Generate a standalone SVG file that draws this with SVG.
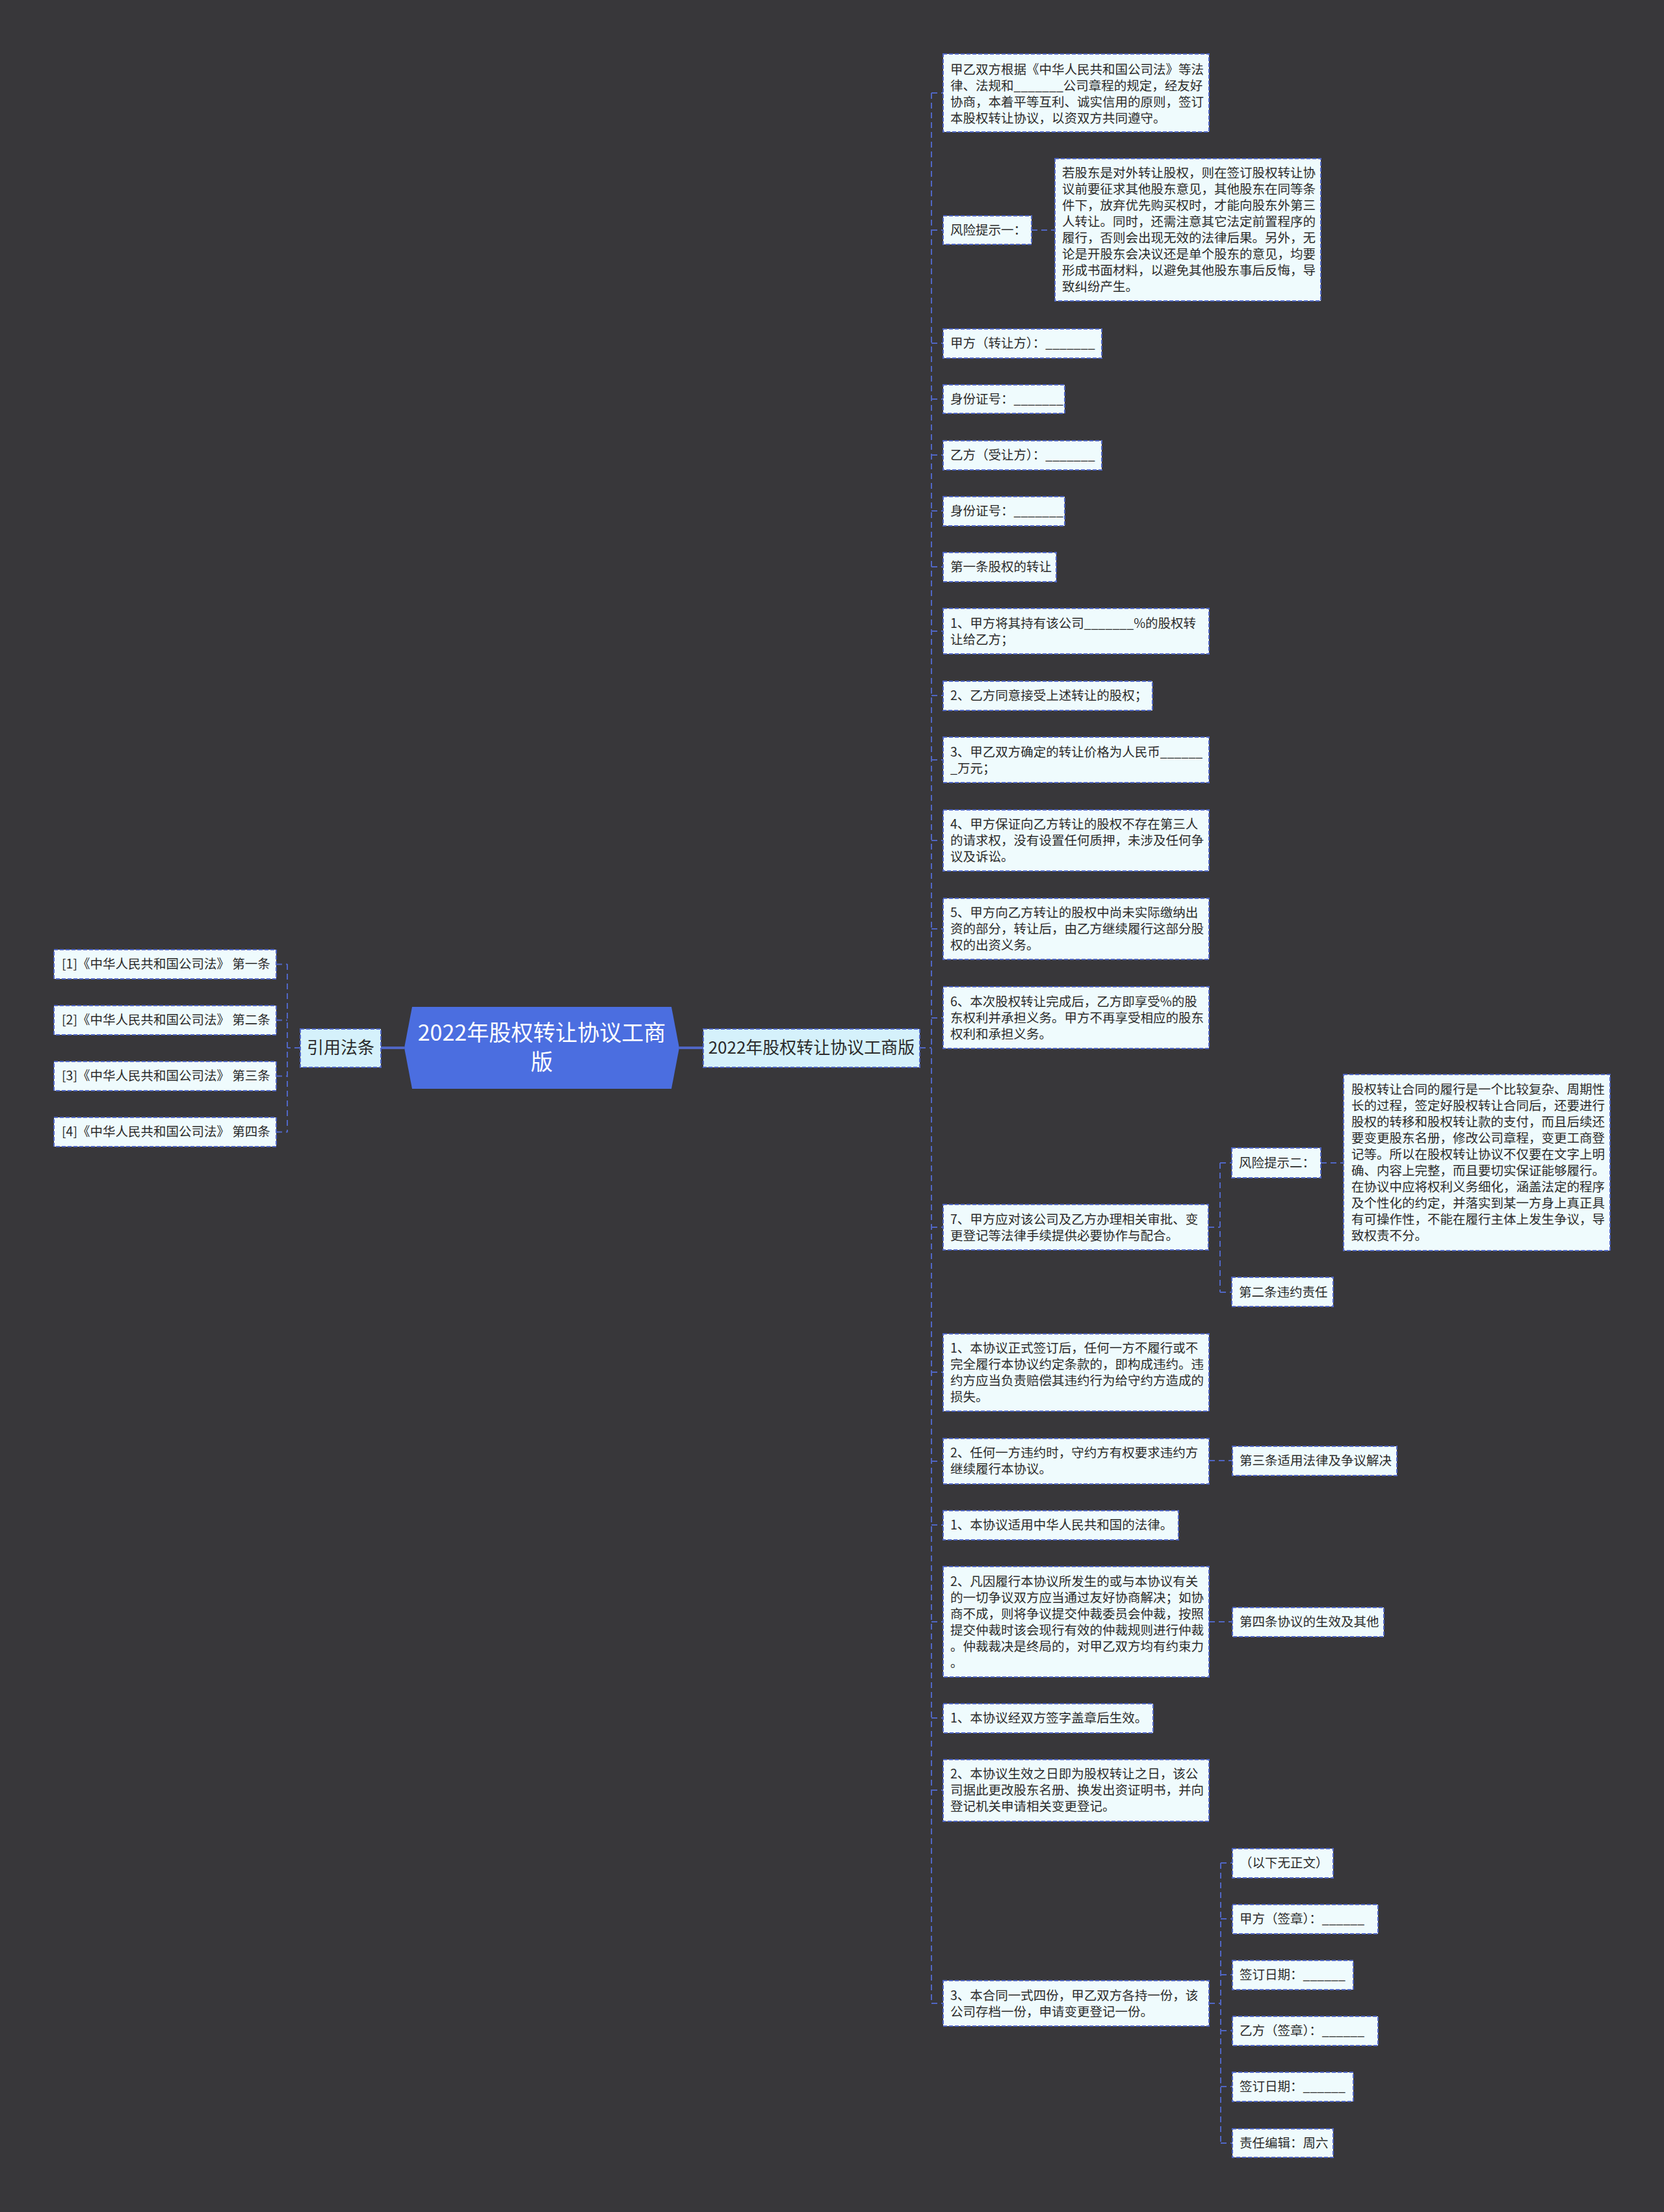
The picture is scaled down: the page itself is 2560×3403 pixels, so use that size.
<svg xmlns="http://www.w3.org/2000/svg" width="2560" height="3403" viewBox="0 0 2560 3403">
<style>
text{font-family:"Noto Sans CJK SC","Microsoft YaHei",sans-serif;fill:#2b2b2b}
.leaf{fill:#effbfd;stroke:#5066c4;stroke-width:2;stroke-dasharray:6 3}
.sub{fill:#d5f1fb;stroke:#5066c4;stroke-width:2;stroke-dasharray:6 3}
.t{font-size:19.5px}
.tl{font-size:19.5px}
.ts{font-size:26px}
.c{stroke:#5066c4;stroke-width:2;stroke-dasharray:9 6;fill:none}
.ct{stroke:#5066c4;stroke-width:4;fill:none}
</style>
<rect width="2560" height="3403" fill="#38373a"/>
<g id="connectors">
<path class="ct" d="M586 1612H622M1045 1612H1082"/>
<path class="c" d="M462 1612H442M442 1483V1742M425 1483.5H442M425 1569.5H442M425 1655.5H442M425 1741.5H442"/>
<path class="c" d="M1415 1612H1433M1433 143V3082"/>
<path class="c" d="M1433 143H1451M1433 354H1451M1433 528H1451M1433 614H1451M1433 700H1451M1433 786H1451M1433 872H1451M1433 971H1451M1433 1070H1451M1433 1169H1451M1433 1293H1451M1433 1429H1451M1433 1566H1451M1433 1888H1451M1433 2111H1451M1433 2248H1451M1433 2346H1451M1433 2495H1451M1433 2643H1451M1433 2754H1451M1433 3082H1451"/>
<path class="c" d="M1587 354H1623M2032 1789H2067M1860 2247H1896M1860 2495H1896"/>
<path class="c" d="M1859 1888H1877M1877 1789V1988M1877 1789H1895M1877 1988H1895"/>
<path class="c" d="M1860 3082H1878M1878 2866V3297M1878 2866H1896M1878 2952H1896M1878 3038H1896M1878 3124H1896M1878 3210H1896M1878 3297H1896"/>
</g>
<g id="root">
<path d="M634 1549H1033L1045 1612L1033 1675H634L622 1612Z" fill="#4b6ee0"/>
<text x="833.5" y="1601" text-anchor="middle" style="font-size:34px;fill:#ffffff">2022年股权转让协议工商</text>
<text x="833.5" y="1646" text-anchor="middle" style="font-size:34px;fill:#ffffff">版</text>
</g>
<g id="n-yinyong">
<rect class="sub" x="462" y="1583" width="124" height="59"/>
<text class="ts" x="524" y="1621" text-anchor="middle">引用法条</text>
</g>
<g id="n-law1"><rect class="leaf" x="83" y="1461" width="342" height="45"/><text class="tl" x="95" y="1490">[1]《中华人民共和国公司法》 第一条</text></g>
<g id="n-law2"><rect class="leaf" x="83" y="1547" width="342" height="45"/><text class="tl" x="95" y="1576">[2]《中华人民共和国公司法》 第二条</text></g>
<g id="n-law3"><rect class="leaf" x="83" y="1633" width="342" height="45"/><text class="tl" x="95" y="1662">[3]《中华人民共和国公司法》 第三条</text></g>
<g id="n-law4"><rect class="leaf" x="83" y="1719" width="342" height="45"/><text class="tl" x="95" y="1748">[4]《中华人民共和国公司法》 第四条</text></g>
<g id="n-main">
<rect class="sub" x="1082" y="1583" width="333" height="59"/>
<text class="ts" x="1248.5" y="1621" text-anchor="middle">2022年股权转让协议工商版</text>
</g>
<g id="n1"><rect class="leaf" x="1451" y="83" width="409" height="120"/>
<text class="t" x="1462" y="114"><tspan x="1462">甲乙双方根据《中华人民共和国公司法》等法</tspan><tspan x="1462" dy="25">律、法规和_______公司章程的规定，经友好</tspan><tspan x="1462" dy="25">协商，本着平等互利、诚实信用的原则，签订</tspan><tspan x="1462" dy="25">本股权转让协议，以资双方共同遵守。</tspan></text></g>
<g id="n2"><rect class="leaf" x="1451" y="332" width="136" height="44"/><text class="t" x="1462" y="361">风险提示一：</text></g>
<g id="n2a"><rect class="leaf" x="1623" y="244" width="409" height="219"/>
<text class="t" x="1634" y="273"><tspan x="1634">若股东是对外转让股权，则在签订股权转让协</tspan><tspan x="1634" dy="25">议前要征求其他股东意见，其他股东在同等条</tspan><tspan x="1634" dy="25">件下，放弃优先购买权时，才能向股东外第三</tspan><tspan x="1634" dy="25">人转让。同时，还需注意其它法定前置程序的</tspan><tspan x="1634" dy="25">履行，否则会出现无效的法律后果。另外，无</tspan><tspan x="1634" dy="25">论是开股东会决议还是单个股东的意见，均要</tspan><tspan x="1634" dy="25">形成书面材料，以避免其他股东事后反悔，导</tspan><tspan x="1634" dy="25">致纠纷产生。</tspan></text></g>
<g id="n3"><rect class="leaf" x="1451" y="506" width="244" height="45"/><text class="t" x="1462" y="535">甲方（转让方）：_______</text></g>
<g id="n4"><rect class="leaf" x="1451" y="592" width="187" height="44"/><text class="t" x="1462" y="621">身份证号：_______</text></g>
<g id="n5"><rect class="leaf" x="1451" y="678" width="244" height="45"/><text class="t" x="1462" y="707">乙方（受让方）：_______</text></g>
<g id="n6"><rect class="leaf" x="1451" y="764" width="187" height="45"/><text class="t" x="1462" y="793">身份证号：_______</text></g>
<g id="n7"><rect class="leaf" x="1451" y="850" width="174" height="45"/><text class="t" x="1462" y="879">第一条股权的转让</text></g>
<g id="n8"><rect class="leaf" x="1451" y="936" width="409" height="70"/>
<text class="t" x="1462" y="966"><tspan x="1462">1、甲方将其持有该公司_______%的股权转</tspan><tspan x="1462" dy="25">让给乙方；</tspan></text></g>
<g id="n9"><rect class="leaf" x="1451" y="1048" width="322" height="45"/><text class="t" x="1462" y="1077">2、乙方同意接受上述转让的股权；</text></g>
<g id="n10"><rect class="leaf" x="1451" y="1134" width="409" height="70"/>
<text class="t" x="1462" y="1164"><tspan x="1462">3、甲乙双方确定的转让价格为人民币______</tspan><tspan x="1462" dy="25">_万元；</tspan></text></g>
<g id="n11"><rect class="leaf" x="1451" y="1246" width="409" height="94"/>
<text class="t" x="1462" y="1275"><tspan x="1462">4、甲方保证向乙方转让的股权不存在第三人</tspan><tspan x="1462" dy="25">的请求权，没有设置任何质押，未涉及任何争</tspan><tspan x="1462" dy="25">议及诉讼。</tspan></text></g>
<g id="n12"><rect class="leaf" x="1451" y="1382" width="409" height="94"/>
<text class="t" x="1462" y="1411"><tspan x="1462">5、甲方向乙方转让的股权中尚未实际缴纳出</tspan><tspan x="1462" dy="25">资的部分，转让后，由乙方继续履行这部分股</tspan><tspan x="1462" dy="25">权的出资义务。</tspan></text></g>
<g id="n13"><rect class="leaf" x="1451" y="1518" width="409" height="95"/>
<text class="t" x="1462" y="1548"><tspan x="1462">6、本次股权转让完成后，乙方即享受%的股</tspan><tspan x="1462" dy="25">东权利并承担义务。甲方不再享受相应的股东</tspan><tspan x="1462" dy="25">权利和承担义务。</tspan></text></g>
<g id="n14"><rect class="leaf" x="1451" y="1853" width="408" height="70"/>
<text class="t" x="1462" y="1883"><tspan x="1462">7、甲方应对该公司及乙方办理相关审批、变</tspan><tspan x="1462" dy="25">更登记等法律手续提供必要协作与配合。</tspan></text></g>
<g id="n14a"><rect class="leaf" x="1895" y="1766" width="137" height="46"/><text class="t" x="1906" y="1796">风险提示二：</text></g>
<g id="n14a1"><rect class="leaf" x="2067" y="1653" width="410" height="271"/>
<text class="t" x="2079" y="1683"><tspan x="2079">股权转让合同的履行是一个比较复杂、周期性</tspan><tspan x="2079" dy="25">长的过程，签定好股权转让合同后，还要进行</tspan><tspan x="2079" dy="25">股权的转移和股权转让款的支付，而且后续还</tspan><tspan x="2079" dy="25">要变更股东名册，修改公司章程，变更工商登</tspan><tspan x="2079" dy="25">记等。所以在股权转让协议不仅要在文字上明</tspan><tspan x="2079" dy="25">确、内容上完整，而且要切实保证能够履行。</tspan><tspan x="2079" dy="25">在协议中应将权利义务细化，涵盖法定的程序</tspan><tspan x="2079" dy="25">及个性化的约定，并落实到某一方身上真正具</tspan><tspan x="2079" dy="25">有可操作性，不能在履行主体上发生争议，导</tspan><tspan x="2079" dy="25">致权责不分。</tspan></text></g>
<g id="n14b"><rect class="leaf" x="1895" y="1965" width="156" height="45"/><text class="t" x="1906" y="1995">第二条违约责任</text></g>
<g id="n15"><rect class="leaf" x="1451" y="2052" width="409" height="119"/>
<text class="t" x="1462" y="2081"><tspan x="1462">1、本协议正式签订后，任何一方不履行或不</tspan><tspan x="1462" dy="25">完全履行本协议约定条款的，即构成违约。违</tspan><tspan x="1462" dy="25">约方应当负责赔偿其违约行为给守约方造成的</tspan><tspan x="1462" dy="25">损失。</tspan></text></g>
<g id="n16"><rect class="leaf" x="1451" y="2213" width="409" height="70"/>
<text class="t" x="1462" y="2242"><tspan x="1462">2、任何一方违约时，守约方有权要求违约方</tspan><tspan x="1462" dy="25">继续履行本协议。</tspan></text></g>
<g id="n16a"><rect class="leaf" x="1896" y="2225" width="253" height="45"/><text class="t" x="1907" y="2254">第三条适用法律及争议解决</text></g>
<g id="n17"><rect class="leaf" x="1451" y="2324" width="362" height="45"/><text class="t" x="1462" y="2353">1、本协议适用中华人民共和国的法律。</text></g>
<g id="n18"><rect class="leaf" x="1451" y="2410" width="409" height="170"/>
<text class="t" x="1462" y="2440"><tspan x="1462">2、凡因履行本协议所发生的或与本协议有关</tspan><tspan x="1462" dy="25">的一切争议双方应当通过友好协商解决；如协</tspan><tspan x="1462" dy="25">商不成，则将争议提交仲裁委员会仲裁，按照</tspan><tspan x="1462" dy="25">提交仲裁时该会现行有效的仲裁规则进行仲裁</tspan><tspan x="1462" dy="25">。仲裁裁决是终局的，对甲乙双方均有约束力</tspan><tspan x="1462" dy="25">。</tspan></text></g>
<g id="n18a"><rect class="leaf" x="1896" y="2473" width="233" height="45"/><text class="t" x="1907" y="2502">第四条协议的生效及其他</text></g>
<g id="n19"><rect class="leaf" x="1451" y="2621" width="323" height="45"/><text class="t" x="1462" y="2650">1、本协议经双方签字盖章后生效。</text></g>
<g id="n20"><rect class="leaf" x="1451" y="2707" width="409" height="95"/>
<text class="t" x="1462" y="2736"><tspan x="1462">2、本协议生效之日即为股权转让之日，该公</tspan><tspan x="1462" dy="25">司据此更改股东名册、换发出资证明书，并向</tspan><tspan x="1462" dy="25">登记机关申请相关变更登记。</tspan></text></g>
<g id="n21"><rect class="leaf" x="1451" y="3047" width="409" height="70"/>
<text class="t" x="1462" y="3077"><tspan x="1462">3、本合同一式四份，甲乙双方各持一份，该</tspan><tspan x="1462" dy="25">公司存档一份，申请变更登记一份。</tspan></text></g>
<g id="n21a"><rect class="leaf" x="1896" y="2844" width="155" height="45"/><text class="t" x="1907" y="2873">（以下无正文）</text></g>
<g id="n21b"><rect class="leaf" x="1896" y="2930" width="224" height="45"/><text class="t" x="1907" y="2959">甲方（签章）：______</text></g>
<g id="n21c"><rect class="leaf" x="1896" y="3016" width="186" height="45"/><text class="t" x="1907" y="3045">签订日期：______</text></g>
<g id="n21d"><rect class="leaf" x="1896" y="3102" width="224" height="45"/><text class="t" x="1907" y="3131">乙方（签章）：______</text></g>
<g id="n21e"><rect class="leaf" x="1896" y="3188" width="186" height="45"/><text class="t" x="1907" y="3217">签订日期：______</text></g>
<g id="n21f"><rect class="leaf" x="1896" y="3275" width="155" height="44"/><text class="t" x="1907" y="3304">责任编辑：周六</text></g>
</svg>
